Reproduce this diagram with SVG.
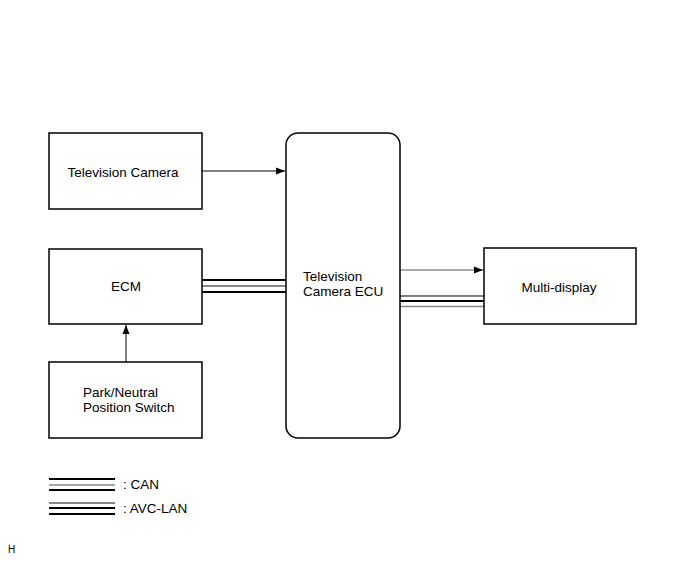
<svg xmlns="http://www.w3.org/2000/svg" width="689" height="561" viewBox="0 0 689 561">
<style>
.box{fill:#fff;stroke:#000;stroke-width:1.5}
text{font-family:"Liberation Sans",Arial,sans-serif;font-size:13.5px;fill:#000}
.blk{stroke:#000;stroke-width:2.2;fill:none}
.thn{stroke:#000;stroke-width:1.2;fill:none}
.gry{stroke:#888;stroke-width:2;fill:none}
.arr{stroke:#000;stroke-width:1;fill:none}
</style>
<defs>
<marker id="ah" markerWidth="10" markerHeight="8" refX="9" refY="4" orient="auto" markerUnits="userSpaceOnUse">
<path d="M0,0.5 L9,4 L0,7.5 Z" fill="#000"/>
</marker>
</defs>
<rect width="689" height="561" fill="#fff"/>
<g id="connectors">
<line class="arr" x1="202" y1="171" x2="285" y2="171" marker-end="url(#ah)"/>
<line class="arr" x1="126" y1="362" x2="126" y2="325" marker-end="url(#ah)"/>
<line x1="400" y1="270" x2="483" y2="270" stroke="#555" stroke-width="1" marker-end="url(#ah)"/>
<line class="blk" x1="202" y1="280" x2="286" y2="280"/>
<line class="gry" x1="202" y1="286" x2="286" y2="286"/>
<line class="blk" x1="202" y1="292" x2="286" y2="292"/>
<line class="thn" x1="400" y1="296" x2="484" y2="296"/>
<line class="blk" x1="400" y1="301" x2="484" y2="301"/>
<line class="gry" x1="400" y1="306.5" x2="484" y2="306.5" style="stroke-width:1.4"/>
</g>
<g id="tv-camera">
<rect class="box" x="49" y="133" width="153" height="76"/>
<text x="123" y="177" text-anchor="middle">Television Camera</text>
</g>
<g id="ecm">
<rect class="box" x="49" y="249" width="153" height="75"/>
<text x="126" y="291" text-anchor="middle">ECM</text>
</g>
<g id="pn-switch">
<rect class="box" x="49" y="362" width="153" height="76"/>
<text x="83" y="397">Park/Neutral</text>
<text x="83" y="412">Position Switch</text>
</g>
<g id="ecu">
<rect class="box" x="286" y="133" width="114" height="305" rx="12" ry="12"/>
<text x="303" y="281">Television</text>
<text x="303" y="296">Camera ECU</text>
</g>
<g id="multi-display">
<rect class="box" x="484" y="248" width="152" height="76"/>
<text x="559" y="292" text-anchor="middle">Multi-display</text>
</g>
<g id="legend">
<line class="blk" x1="49" y1="479" x2="115" y2="479"/>
<line class="gry" x1="49" y1="485" x2="115" y2="485" style="stroke-width:1.4"/>
<line class="blk" x1="49" y1="490" x2="115" y2="490"/>
<text x="123" y="489">: CAN</text>
<line class="gry" x1="49" y1="503" x2="115" y2="503"/>
<line class="blk" x1="49" y1="508" x2="115" y2="508"/>
<line class="blk" x1="49" y1="514" x2="115" y2="514"/>
<text x="123" y="513">: AVC-LAN</text>
</g>
<text x="8" y="553" style="font-size:10px">H</text>
</svg>
